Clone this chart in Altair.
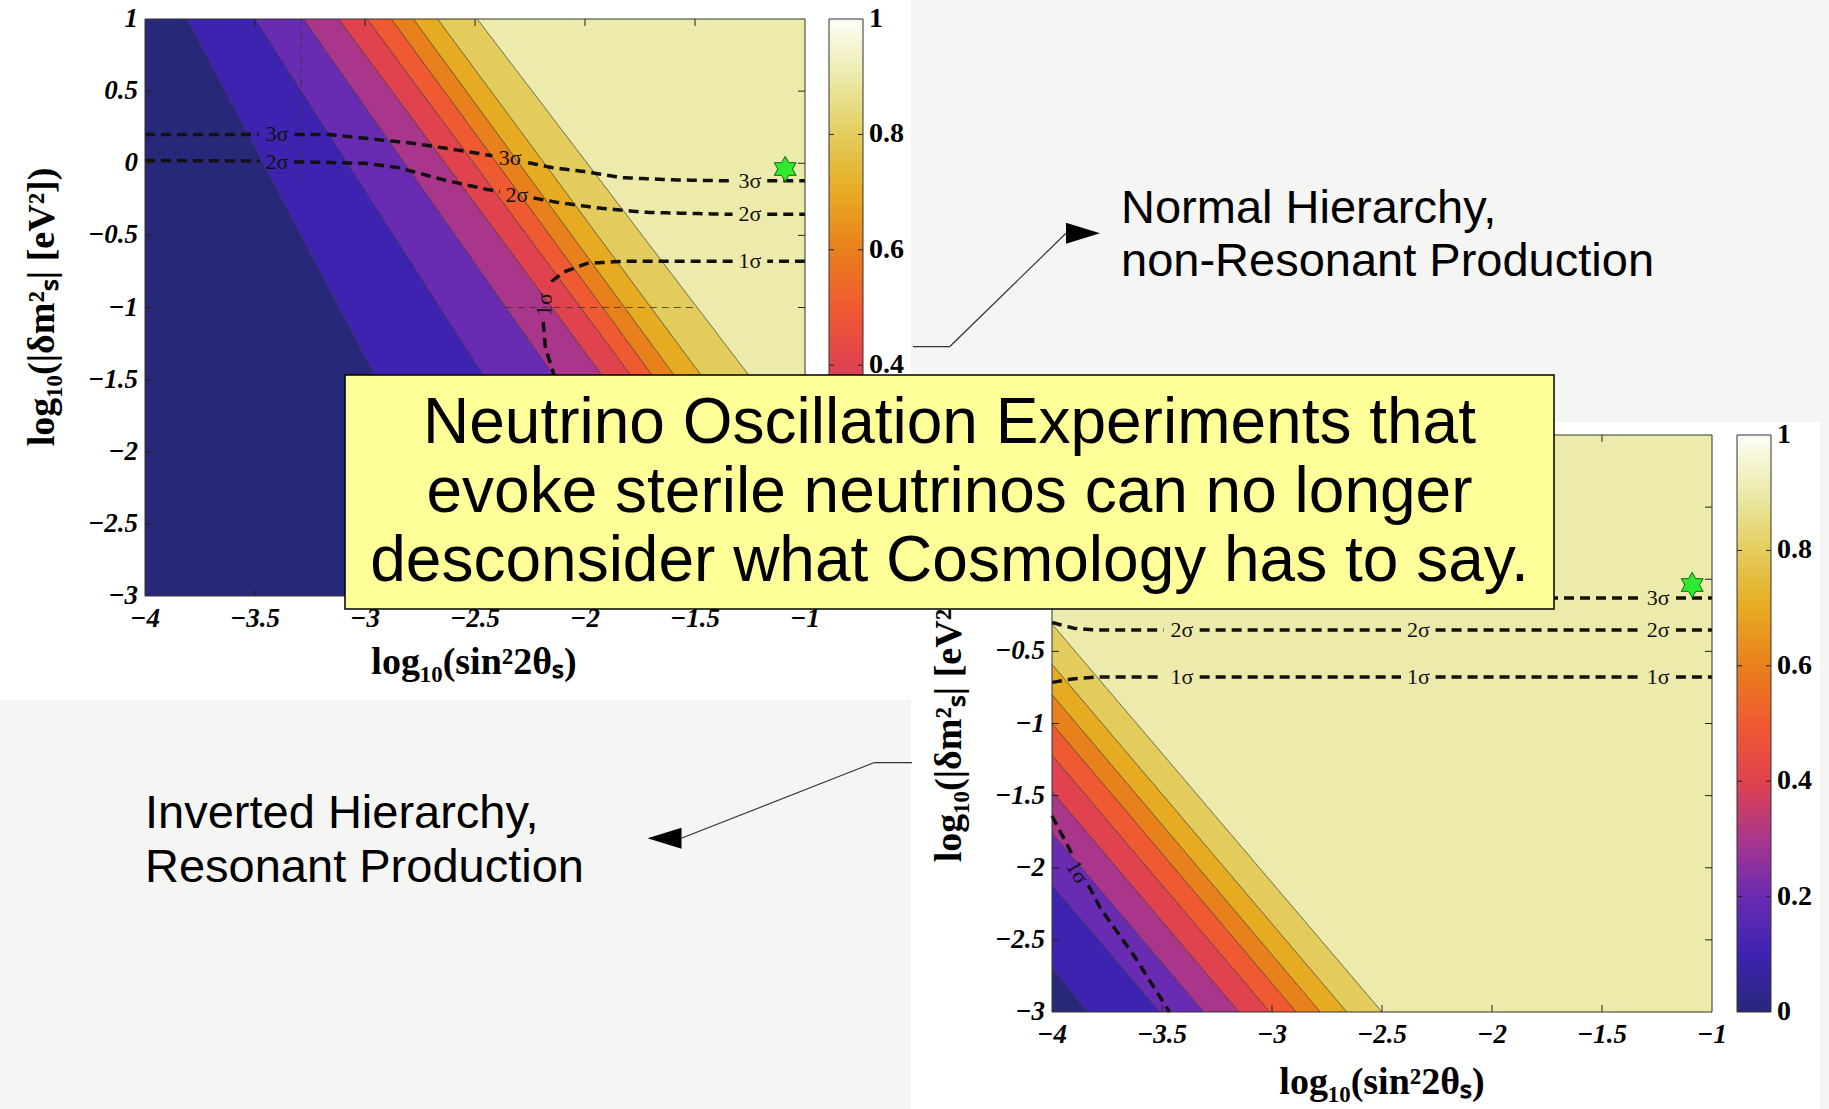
import numpy as np
import pandas as pd
import altair as alt

# ---------------------------------------------------------------- canvas
W, H = 1829, 1109
SLIDE = "#f5f5f3"

# ---------------------------------------------------------------- axes / ticks
X_DOMAIN = [-4.0, -1.0]
Y_DOMAIN = [-3.0, 1.0]
X_TICKS = [-4, -3.5, -3, -2.5, -2, -1.5, -1]
Y_TICKS = [-3, -2.5, -2, -1.5, -1, -0.5, 0, 0.5, 1]
CB_TICKS = [0, 0.2, 0.4, 0.6, 0.8, 1]

# ---------------------------------------------------------------- colour map (value -> colour)
LEVELS = [0.0, 0.1, 0.2, 0.3, 0.4, 0.5, 0.6, 0.7, 0.8, 0.9, 1.0]
LEVEL_COLORS = ["#28287a", "#3e23b0", "#6a2bb3", "#aa368c", "#e0434e", "#f05a32",
                "#e8801c", "#e7ab22", "#e3cc5c", "#ecebab", "#fdfdf6"]

# ---------------------------------------------------------------- normal hierarchy, non-resonant
# contour edges 0.1 ... 0.9: x where each edge meets y = 1 and y = -1
NH_EDGE_X_AT_TOP = [-3.81, -3.50, -3.28, -3.12, -2.99, -2.88, -2.78, -2.67, -2.49]
NH_EDGE_X_AT_MID = [-3.12, -2.66, -2.36, -2.15, -2.02, -1.92, -1.82, -1.70, -1.49]

NH_SIGMA3_X = [-4.0, -3.6, -3.17, -2.79, -2.53, -2.34, -2.15, -1.99, -1.83, -1.60, -1.35, -1.0]
NH_SIGMA3_Y = [0.20, 0.20, 0.20, 0.14, 0.08, 0.03, -0.03, -0.06, -0.10, -0.115, -0.122, -0.122]
NH_SIGMA2_X = [-4.0, -3.5, -3.0, -2.85, -2.63, -2.45, -2.31, -2.13, -1.94, -1.73, -1.35, -1.0]
NH_SIGMA2_Y = [0.02, 0.015, 0.0, -0.03, -0.12, -0.18, -0.22, -0.27, -0.31, -0.34, -0.354, -0.354]
NH_SIGMA1_X = [-1.0, -1.5, -1.83, -1.99, -2.10, -2.15, -2.18, -2.19, -2.18, -2.14, -2.08]
NH_SIGMA1_Y = [-0.68, -0.68, -0.68, -0.694, -0.756, -0.818, -0.91, -1.10, -1.28, -1.47, -1.70]

NH_LABEL_TEXT = ["3σ", "2σ", "3σ", "2σ", "3σ", "2σ", "1σ"]
NH_LABEL_X = [-3.40, -3.40, -2.34, -2.31, -1.25, -1.25, -1.25]
NH_LABEL_Y = [0.20, 0.01, 0.035, -0.22, -0.122, -0.354, -0.68]
NH_TILTED_LABEL = ("1σ", -2.185, -0.98)

# thin guide lines
NH_GUIDE_V = ([-3.29, -3.29], [1.0, -0.14])
NH_GUIDE_H = ([-2.36, -1.49], [-1.0, -1.0])

# ---------------------------------------------------------------- inverted hierarchy, resonant
# contour edges 0.1 ... 0.9: x where each edge meets y = -3 and y where it meets x = -4
IH_EDGE_X_AT_BOTTOM = [-3.84, -3.51, -3.31, -3.15, -3.01, -2.89, -2.78, -2.66, -2.50]
IH_EDGE_Y_AT_LEFT = [-2.69, -2.12, -1.76, -1.47, -1.22, -1.00, -0.80, -0.59, -0.31]

IH_SIGMA3_X = [-4.0, -1.0]
IH_SIGMA3_Y = [-0.13, -0.13]
IH_SIGMA2_X = [-4.0, -3.9, -3.8, -1.0]
IH_SIGMA2_Y = [-0.30, -0.34, -0.352, -0.352]
IH_SIGMA1_X = [-4.0, -3.9, -3.8, -1.0]
IH_SIGMA1_Y = [-0.715, -0.69, -0.678, -0.678]
IH_SIGMA1B_X = [-4.0, -3.78, -3.627, -3.466]
IH_SIGMA1B_Y = [-1.64, -2.28, -2.61, -3.0]

IH_LABEL_TEXT = ["3σ", "2σ", "2σ", "2σ", "1σ", "1σ", "1σ"]
IH_LABEL_X = [-1.245, -3.41, -2.335, -1.245, -3.41, -2.335, -1.245]
IH_LABEL_Y = [-0.13, -0.352, -0.352, -0.352, -0.678, -0.678, -0.678]
IH_TILTED_LABEL = ("1σ", -3.885, -2.03)

BEST_FIT = (-1.09, -0.04)

# ---------------------------------------------------------------- layout (pixels)
NH_BOX = dict(left=145, right=805, top=19, bottom=596)
IH_BOX = dict(left=1052, right=1712, top=435, bottom=1012)
NH_CB = dict(left=829, right=863, top=19, bottom=596)
IH_CB = dict(left=1737, right=1771, top=435, bottom=1012)

SERIF = "Liberation Serif"
SANS = "Liberation Sans"
HEXAGRAM = ("M0,-1L0.289,-0.5L0.866,-0.5L0.577,0L0.866,0.5L0.289,0.5L0,1L-0.289,0.5"
            "L-0.866,0.5L-0.577,0L-0.866,-0.5L-0.289,-0.5Z")
ARROW_RIGHT = "M-1,-0.62L1,0L-1,0.62Z"
ARROW_LEFT = "M1,-0.62L-1,0L1,0.62Z"

CMAP = alt.Scale(domain=LEVELS, range=LEVEL_COLORS, interpolate="rgb")
BAND_IDS = list(range(len(LEVELS) - 1))
BAND_COLORS = alt.Scale(domain=BAND_IDS, range=LEVEL_COLORS[:-1])
TICK_FONT = dict(font=SERIF, fontSize=27, fontStyle="italic", fontWeight="bold", color="#000")
SIGMA_FONT = dict(font=SERIF, fontSize=22, color="#111111")


def tick_text(v):
    return f"{v:g}".replace("-", "\u2212")


def edge(p, q):
    (xa, ya), (xb, yb) = p, q
    m = (yb - ya) / (xb - xa)
    return (lambda x: ya + m * (x - xa)), (lambda y: xa + (y - ya) / m)


def scales(box):
    sx = alt.Scale(domain=X_DOMAIN, range=[box["left"], box["right"]], nice=False, zero=False)
    sy = alt.Scale(domain=Y_DOMAIN, range=[box["bottom"], box["top"]], nice=False, zero=False)
    return sx, sy


def cut_curve(xs, ys, holes, box, name, radius=17.0):
    """Resample a polyline and leave gaps where the inline labels sit."""
    sx = (box["right"] - box["left"]) / (X_DOMAIN[1] - X_DOMAIN[0])
    sy = (box["bottom"] - box["top"]) / (Y_DOMAIN[1] - Y_DOMAIN[0])
    pts = []
    for i in range(len(xs) - 1):
        x0, y0, x1, y1 = xs[i], ys[i], xs[i + 1], ys[i + 1]
        n = max(2, int(np.hypot((x1 - x0) * sx, (y1 - y0) * sy) / 1.5))
        for t in np.linspace(0, 1, n, endpoint=False):
            pts.append((x0 + t * (x1 - x0), y0 + t * (y1 - y0)))
    pts.append((xs[-1], ys[-1]))
    rows, seg, inside = [], 0, True
    for k, (x, y) in enumerate(pts):
        free = all(np.hypot((x - hx) * sx, (y - hy) * sy) > radius for hx, hy in holes)
        if free:
            if not inside:
                seg += 1
                inside = True
            rows.append(dict(x=float(x), y=float(y), seg=f"{name}-{seg}", i=k))
        else:
            inside = False
    return rows


def panel(box, edges, curves, labels, tilted, tilt_angle, guides):
    sx, sy = scales(box)
    X = lambda f="x:Q": alt.X(f, scale=sx, axis=None)
    Y = lambda f="y:Q": alt.Y(f, scale=sy, axis=None)

    # filled bands between consecutive contour edges
    cross = []
    for f, g in edges:
        for yy in Y_DOMAIN:
            c = g(yy)
            if X_DOMAIN[0] < c < X_DOMAIN[1]:
                cross.append(float(c))
    xs = sorted(set(X_DOMAIN + cross))
    band_rows = []
    for k in BAND_IDS:
        for x in xs:
            lo = Y_DOMAIN[0] if k == 0 else float(np.clip(edges[k - 1][0](x), *Y_DOMAIN))
            hi = Y_DOMAIN[1] if k == len(edges) else float(np.clip(edges[k][0](x), *Y_DOMAIN))
            band_rows.append(dict(x=float(x), lo=lo, hi=hi, band=k))
    bands = alt.Chart(pd.DataFrame(band_rows)).mark_area(
        orient="vertical", strokeWidth=0, opacity=1).encode(
        x=X(), y=alt.Y("lo:Q", scale=sy, axis=None, stack=None), y2="hi:Q",
        color=alt.Color("band:N", scale=BAND_COLORS, legend=None),
    )

    # thin contour edges
    edge_rows = []
    for n, (f, g) in enumerate(edges):
        for j, x in enumerate((g(Y_DOMAIN[1]), g(Y_DOMAIN[0]))):
            xc = min(max(x, X_DOMAIN[0]), X_DOMAIN[1])
            edge_rows.append(dict(x=float(xc), y=float(f(xc)), e=n, i=j))
    edge_lines = alt.Chart(pd.DataFrame(edge_rows)).mark_line(
        color="#1a1a1a", strokeWidth=0.7, opacity=0.85).encode(
        x=X(), y=Y(), detail="e:N", order="i:Q")

    layers = [bands, edge_lines]

    # thin dashed guides
    if guides:
        g_rows = []
        for n, (gx, gy) in enumerate(guides):
            for j in range(len(gx)):
                g_rows.append(dict(x=gx[j], y=gy[j], g=n, i=j))
        layers.append(alt.Chart(pd.DataFrame(g_rows)).mark_line(
            color="#333333", strokeWidth=1, strokeDash=[7, 5], opacity=0.8).encode(
            x=X(), y=Y(), detail="g:N", order="i:Q"))

    # confidence contours with gaps for their labels
    holes = list(zip(labels[1], labels[2])) + [(tilted[1], tilted[2])]
    c_rows = []
    for n, (cx, cy) in enumerate(curves):
        c_rows += cut_curve(cx, cy, holes, box, f"c{n}")
    layers.append(alt.Chart(pd.DataFrame(c_rows)).mark_line(
        color="#111111", strokeWidth=3.5, strokeDash=[10, 6]).encode(
        x=X(), y=Y(), detail="seg:N", order="i:Q"))

    lab = pd.DataFrame(dict(t=labels[0], x=labels[1], y=labels[2]))
    layers.append(alt.Chart(lab).mark_text(**SIGMA_FONT).encode(x=X(), y=Y(), text="t:N"))
    tl = pd.DataFrame(dict(t=[tilted[0]], x=[tilted[1]], y=[tilted[2]]))
    layers.append(alt.Chart(tl).mark_text(angle=tilt_angle, **SIGMA_FONT).encode(
        x=X(), y=Y(), text="t:N"))

    # best-fit point
    star = pd.DataFrame(dict(x=[BEST_FIT[0]], y=[BEST_FIT[1]]))
    layers.append(alt.Chart(star).mark_point(shape=HEXAGRAM, size=640, filled=True,
                                             fill="#2fe82f", stroke="#0b6a0b",
                                             strokeWidth=1, opacity=1).encode(x=X(), y=Y()))

    # inward ticks on all four sides
    tx = 7.0 * (X_DOMAIN[1] - X_DOMAIN[0]) / (box["right"] - box["left"])
    ty = 7.0 * (Y_DOMAIN[1] - Y_DOMAIN[0]) / (box["bottom"] - box["top"])
    t_rows = []
    for v in X_TICKS[1:-1]:
        t_rows.append(dict(x=v, x2=v, y=Y_DOMAIN[0], y2=Y_DOMAIN[0] + ty))
        t_rows.append(dict(x=v, x2=v, y=Y_DOMAIN[1], y2=Y_DOMAIN[1] - ty))
    for v in Y_TICKS[1:-1]:
        t_rows.append(dict(x=X_DOMAIN[0], x2=X_DOMAIN[0] + tx, y=v, y2=v))
        t_rows.append(dict(x=X_DOMAIN[1], x2=X_DOMAIN[1] - tx, y=v, y2=v))
    layers.append(alt.Chart(pd.DataFrame(t_rows)).mark_rule(color="#222222", strokeWidth=1).encode(
        x=X(), x2="x2:Q", y=Y(), y2="y2:Q"))

    frame = pd.DataFrame(dict(x=[X_DOMAIN[0]], x2=[X_DOMAIN[1]], y=[Y_DOMAIN[0]], y2=[Y_DOMAIN[1]]))
    layers.append(alt.Chart(frame).mark_rect(fillOpacity=0, stroke="#333333", strokeWidth=1).encode(
        x=X(), x2="x2:Q", y=Y(), y2="y2:Q"))

    # tick labels
    xl = pd.DataFrame(dict(x=X_TICKS, y=Y_DOMAIN[0], t=[tick_text(v) for v in X_TICKS]))
    layers.append(alt.Chart(xl).mark_text(align="center", baseline="middle", dy=23,
                                          **TICK_FONT).encode(x=X(), y=Y(), text="t:N"))
    yl = pd.DataFrame(dict(x=X_DOMAIN[0], y=Y_TICKS, t=[tick_text(v) for v in Y_TICKS]))
    layers.append(alt.Chart(yl).mark_text(align="right", baseline="middle", dx=-7,
                                          **TICK_FONT).encode(x=X(), y=Y(), text="t:N"))
    return alt.layer(*layers)


def colorbar(box):
    cx = alt.Scale(domain=[0, 1], range=[box["left"], box["right"]], nice=False, zero=False)
    cy = alt.Scale(domain=[0, 1], range=[box["bottom"], box["top"]], nice=False, zero=False)
    X = lambda f="x:Q": alt.X(f, scale=cx, axis=None)
    Y = lambda f="y:Q": alt.Y(f, scale=cy, axis=None)
    n = 300
    lo = np.linspace(0, 1, n, endpoint=False)
    cells = pd.DataFrame(dict(x=0.0, x2=1.0, y=lo, y2=np.minimum(lo + 1.6 / n, 1.0),
                              v=lo + 0.5 / n))
    grad = alt.Chart(cells).mark_rect(strokeWidth=0).encode(
        x=X(), x2="x2:Q", y=Y(), y2="y2:Q",
        color=alt.Color("v:Q", scale=CMAP, legend=None))
    tl = 5.0 / (box["right"] - box["left"])
    t_rows = []
    for v in CB_TICKS[1:-1]:
        t_rows.append(dict(x=0.0, x2=tl, y=v))
        t_rows.append(dict(x=1.0, x2=1.0 - tl, y=v))
    ticks = alt.Chart(pd.DataFrame(t_rows)).mark_rule(color="#222222", strokeWidth=1).encode(
        x=X(), x2="x2:Q", y=Y())
    frame = alt.Chart(pd.DataFrame(dict(x=[0.0], x2=[1.0], y=[0.0], y2=[1.0]))).mark_rect(
        fillOpacity=0, stroke="#333333", strokeWidth=1).encode(
        x=X(), x2="x2:Q", y=Y(), y2="y2:Q")
    lab = pd.DataFrame(dict(x=1.0, y=CB_TICKS, t=[tick_text(v) for v in CB_TICKS]))
    labels = alt.Chart(lab).mark_text(align="left", baseline="middle", dx=6, font=SERIF,
                                      fontSize=28, fontWeight="bold", color="#000").encode(
        x=X(), y=Y(), text="t:N")
    return alt.layer(grad, ticks, frame, labels)


one = pd.DataFrame(dict(k=[0]))


def rect(x0, x1, y0, y1, **kw):
    return alt.Chart(one).mark_rect(**kw).encode(
        x=alt.value(x0), x2=alt.value(x1), y=alt.value(y0), y2=alt.value(y1))


def text(x, y, lines, **kw):
    return alt.Chart(one).mark_text(text=lines, **kw).encode(x=alt.value(x), y=alt.value(y))


def seg(x0, y0, x1, y1):
    return alt.Chart(one).mark_rule(color="#333333", strokeWidth=1.2).encode(
        x=alt.value(x0), y=alt.value(y0), x2=alt.value(x1), y2=alt.value(y1))


def head(x, y, shape):
    return alt.Chart(one).mark_point(shape=shape, size=1156, filled=True, fill="#000",
                                     strokeWidth=0, opacity=1).encode(x=alt.value(x), y=alt.value(y))


nh_edges = [edge((xt, 1.0), (xm, -1.0)) for xt, xm in zip(NH_EDGE_X_AT_TOP, NH_EDGE_X_AT_MID)]
ih_edges = [edge((xb, -3.0), (-4.0, yl)) for xb, yl in zip(IH_EDGE_X_AT_BOTTOM, IH_EDGE_Y_AT_LEFT)]

nh_panel = panel(NH_BOX, nh_edges,
                 [(NH_SIGMA3_X, NH_SIGMA3_Y), (NH_SIGMA2_X, NH_SIGMA2_Y), (NH_SIGMA1_X, NH_SIGMA1_Y)],
                 (NH_LABEL_TEXT, NH_LABEL_X, NH_LABEL_Y), NH_TILTED_LABEL, 272,
                 [NH_GUIDE_V, NH_GUIDE_H])
ih_panel = panel(IH_BOX, ih_edges,
                 [(IH_SIGMA3_X, IH_SIGMA3_Y), (IH_SIGMA2_X, IH_SIGMA2_Y),
                  (IH_SIGMA1_X, IH_SIGMA1_Y), (IH_SIGMA1B_X, IH_SIGMA1B_Y)],
                 (IH_LABEL_TEXT, IH_LABEL_X, IH_LABEL_Y), IH_TILTED_LABEL, 59, [])

X_TITLE = "log₁₀(sin²2θₛ)"
Y_TITLE = "log₁₀(|δm²ₛ| [eV²])"
title_style = dict(font=SERIF, fontSize=38, fontWeight="bold", color="#000")

chart = alt.layer(
    # slide surface around the two pasted figures
    rect(911, W, 0, 422, fill=SLIDE),
    rect(0, 911, 700, H, fill=SLIDE),
    rect(1820, W, 422, H, fill=SLIDE),
    nh_panel,
    colorbar(NH_CB),
    ih_panel,
    colorbar(IH_CB),
    text(474, 674, X_TITLE, align="center", baseline="alphabetic", **title_style),
    text(43, 307, Y_TITLE, align="center", baseline="middle", angle=270, **title_style),
    text(1382, 1094, X_TITLE, align="center", baseline="alphabetic", **title_style),
    text(950, 723, Y_TITLE, align="center", baseline="middle", angle=270, **title_style),
    # callouts
    seg(913, 346.7, 949.6, 346.7),
    seg(949.6, 346.7, 1066, 233.3),
    head(1083, 233.3, ARROW_RIGHT),
    text(1121, 222.7, ["Normal Hierarchy,", "non-Resonant Production"], align="left",
         baseline="alphabetic", font=SANS, fontSize=47, lineHeight=53.5, color="#000"),
    seg(912, 762.7, 873.8, 762.7),
    seg(873.8, 762.7, 681.3, 838.3),
    head(664.5, 838.3, ARROW_LEFT),
    text(145, 827.7, ["Inverted Hierarchy,", "Resonant Production"], align="left",
         baseline="alphabetic", font=SANS, fontSize=47, lineHeight=54, color="#000"),
    # message box
    rect(345, 1554, 375, 609, fill="#ffff99", stroke="#000000", strokeWidth=1.5),
    text(949.5, 442.7, ["Neutrino Oscillation Experiments that",
                        "evoke sterile neutrinos can no longer",
                        "desconsider what Cosmology has to say."],
         align="center", baseline="alphabetic", font=SANS, fontSize=64, lineHeight=69,
         color="#000"),
).resolve_scale(
    x="independent", y="independent", color="independent"
).properties(
    width=W, height=H, padding=0, background="#ffffff",
    autosize=alt.AutoSizeParams(type="none"),
).configure_view(stroke=None)

chart.save("out.html", embed_options={"renderer": "svg", "actions": False})
